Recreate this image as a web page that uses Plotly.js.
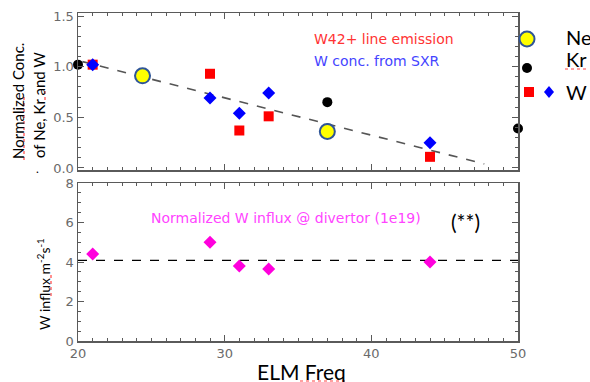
<!DOCTYPE html>
<html>
<head>
<meta charset="utf-8">
<script src="https://cdn.plot.ly/plotly-3.0.1.min.js"></script>
<style>html,body{margin:0;padding:0;background:#fff;}#chart{width:590px;height:382px;}</style>
</head>
<body>
<div id="chart"></div>
<script>
// ---- data (top panel: normalized concentrations) ----
const krFreq = [20, 37, 50];
const krConc = [1.02, 0.65, 0.39];
const neFreq = [24.4, 37];
const neConc = [0.91, 0.36];
const w42Freq = [21, 29, 31, 33, 44];
const w42Conc = [1.02, 0.93, 0.37, 0.51, 0.11];
const sxrFreq = [21, 29, 31, 33, 44];
const sxrConc = [1.02, 0.69, 0.54, 0.74, 0.25];
const fitFreq = [20.3, 47.7];
const fitConc = [1.05, 0.04];
// ---- data (bottom panel: W influx) ----
const influxFreq = [21, 29, 31, 33, 44];
const influxVal = [4.4, 5.0, 3.8, 3.65, 4.0];
const meanFreq = [20, 50];
const meanVal = [4.08, 4.08];
// ---- tick labels ----
const xTicks = [20, 30, 40, 50];
const topYTicks = [0, 0.5, 1.0, 1.5];
const botYTicks = [0, 2, 4, 6, 8];

const L = 78, R = 518, T = 13, B = 341;
const xp = px => (px - L) / (R - L);
const yp = py => (B - py) / (B - T);

const axisCommon = {
  showline: true, linecolor: '#5a5a5a', linewidth: 1.5, mirror: 'allticks',
  ticks: 'inside', ticklen: 6, tickcolor: '#5a5a5a', tickwidth: 1,
  showgrid: false, zeroline: false,
  tickfont: {family: 'DejaVu Sans', size: 13, color: '#6a6a6a'}
};

const traces = [
  {x: fitFreq, y: fitConc, xaxis: 'x2', yaxis: 'y2', mode: 'lines',
   line: {color: '#555', width: 1.6, dash: 'dash'}, hoverinfo: 'skip'},
  {x: w42Freq, y: w42Conc, xaxis: 'x2', yaxis: 'y2', mode: 'markers',
   marker: {symbol: 'square', size: 10, color: '#ff0000'}},
  {x: sxrFreq, y: sxrConc, xaxis: 'x2', yaxis: 'y2', mode: 'markers',
   marker: {symbol: 'diamond', size: 10, color: '#0000ff'}},
  {x: krFreq, y: krConc, xaxis: 'x2', yaxis: 'y2', mode: 'markers', cliponaxis: false,
   marker: {symbol: 'circle', size: 10, color: '#000'}},
  {x: neFreq, y: neConc, xaxis: 'x2', yaxis: 'y2', mode: 'markers',
   marker: {symbol: 'circle', size: 15, color: '#ffff00', line: {color: '#2f5597', width: 2}}},
  {x: meanFreq, y: meanVal, xaxis: 'x', yaxis: 'y', mode: 'lines',
   line: {color: '#000', width: 1.2, dash: 'dash'}, hoverinfo: 'skip'},
  {x: influxFreq, y: influxVal, xaxis: 'x', yaxis: 'y', mode: 'markers',
   marker: {symbol: 'diamond', size: 10, color: '#ff00dd'}}
];

const ann = (txt, px, py, opts) => Object.assign({
  text: txt, xref: 'paper', yref: 'paper', x: xp(px), y: yp(py),
  showarrow: false, xanchor: 'left', yanchor: 'middle'
}, opts);

const annotations = [
  ann('W42+ line emission', 312, 39, {font: {family: 'DejaVu Sans', size: 14, color: '#ff3333'}}),
  ann('W conc. from SXR', 312, 61, {font: {family: 'DejaVu Sans', size: 14, color: '#4444ff'}}),
  ann('Normalized W influx @ divertor (1e19)', 149, 218, {font: {family: 'DejaVu Sans', size: 14, color: '#ff44ff'}}),
  ann('(**)', 449, 221, {font: {family: 'Lato', size: 21, color: '#000'}}),
  ann('Ne', 564, 37, {font: {family: 'Lato', size: 20, color: '#000'}}),
  ann('Kr', 564, 59, {font: {family: 'Lato', size: 20, color: '#000'}}),
  ann('W', 564, 92, {font: {family: 'Lato', size: 20, color: '#000'}}),
  ann('Normalized Conc.', 18, 101, {xanchor: 'center', textangle: -90, font: {family: 'Lato', size: 15, color: '#000'}}),
  ann('of Ne, Kr and W', 39, 105, {xanchor: 'center', textangle: -90, font: {family: 'Lato', size: 15, color: '#000'}}),
  ann('W influx m<sup>-2</sup>s<sup>-1</sup>', 43, 284, {xanchor: 'center', textangle: -90, font: {family: 'Lato', size: 14, color: '#000'}}),
  ann('ELM Freq', 301, 371, {xanchor: 'center', font: {family: 'Lato', size: 21, color: '#000'}}),
  ann('.', 37, 168, {xanchor: 'center', font: {family: 'Lato', size: 12, color: '#000'}})
];

const pxShape = (type, cx, cy, hw, hh, fill, line) => ({
  type: type, xref: 'paper', yref: 'paper', xsizemode: 'pixel', ysizemode: 'pixel',
  xanchor: xp(cx), yanchor: yp(cy), x0: -hw, x1: hw, y0: -hh, y1: hh,
  fillcolor: fill, line: line || {width: 0}
});
const squiggle = (x0, y0, x1, y1) => ({
  type: 'line', xref: 'paper', yref: 'paper', x0: xp(x0), y0: yp(y0), x1: xp(x1), y1: yp(y1),
  line: {color: '#ff4444', width: 1.2, dash: 'dot'}
});

const shapes = [
  pxShape('circle', 527, 39, 7.5, 7.5, '#ffff00', {color: '#2f5597', width: 2}),
  pxShape('circle', 527, 68, 5, 5, '#000'),
  pxShape('rect', 529, 92, 5, 5, '#ff0000'),
  {type: 'path', xref: 'paper', yref: 'paper', xsizemode: 'pixel', ysizemode: 'pixel',
   xanchor: xp(549), yanchor: yp(92), path: 'M 0 6 L 5 0 L 0 -6 L -5 0 Z',
   fillcolor: '#0000ff', line: {width: 0}},
  squiggle(565, 69, 586, 69),
  squiggle(24, 160, 24, 95),
  squiggle(45, 100, 45, 88),
  squiggle(51, 296, 51, 274),
  squiggle(300, 381, 347, 381)
];

const layout = {
  width: 590, height: 382,
  margin: {l: L, r: 590 - R, t: T, b: 382 - B},
  paper_bgcolor: '#fff', plot_bgcolor: '#fff',
  showlegend: false,
  xaxis: Object.assign({}, axisCommon, {domain: [0, 1], anchor: 'y', range: [20, 50],
    tickvals: xTicks, minor: {dtick: 1, ticks: 'inside', ticklen: 3, tickcolor: '#5a5a5a'}}),
  xaxis2: Object.assign({}, axisCommon, {domain: [0, 1], anchor: 'y2', range: [20, 50],
    tickvals: xTicks, showticklabels: false, minor: {dtick: 1, ticks: 'inside', ticklen: 3, tickcolor: '#5a5a5a'}}),
  yaxis: Object.assign({}, axisCommon, {domain: [0, yp(183)], anchor: 'x', range: [0, 8],
    tickvals: botYTicks, minor: {dtick: 0.5, ticks: 'inside', ticklen: 3, tickcolor: '#5a5a5a'}}),
  yaxis2: Object.assign({}, axisCommon, {domain: [yp(170), 1], anchor: 'x2', range: [-0.02, 1.53],
    tickvals: topYTicks, tickformat: '.1f', minor: {dtick: 0.1, ticks: 'inside', ticklen: 3, tickcolor: '#5a5a5a'}}),
  annotations: annotations,
  shapes: shapes
};

Plotly.newPlot('chart', traces, layout, {displayModeBar: false, staticPlot: true});
</script>
</body>
</html>
